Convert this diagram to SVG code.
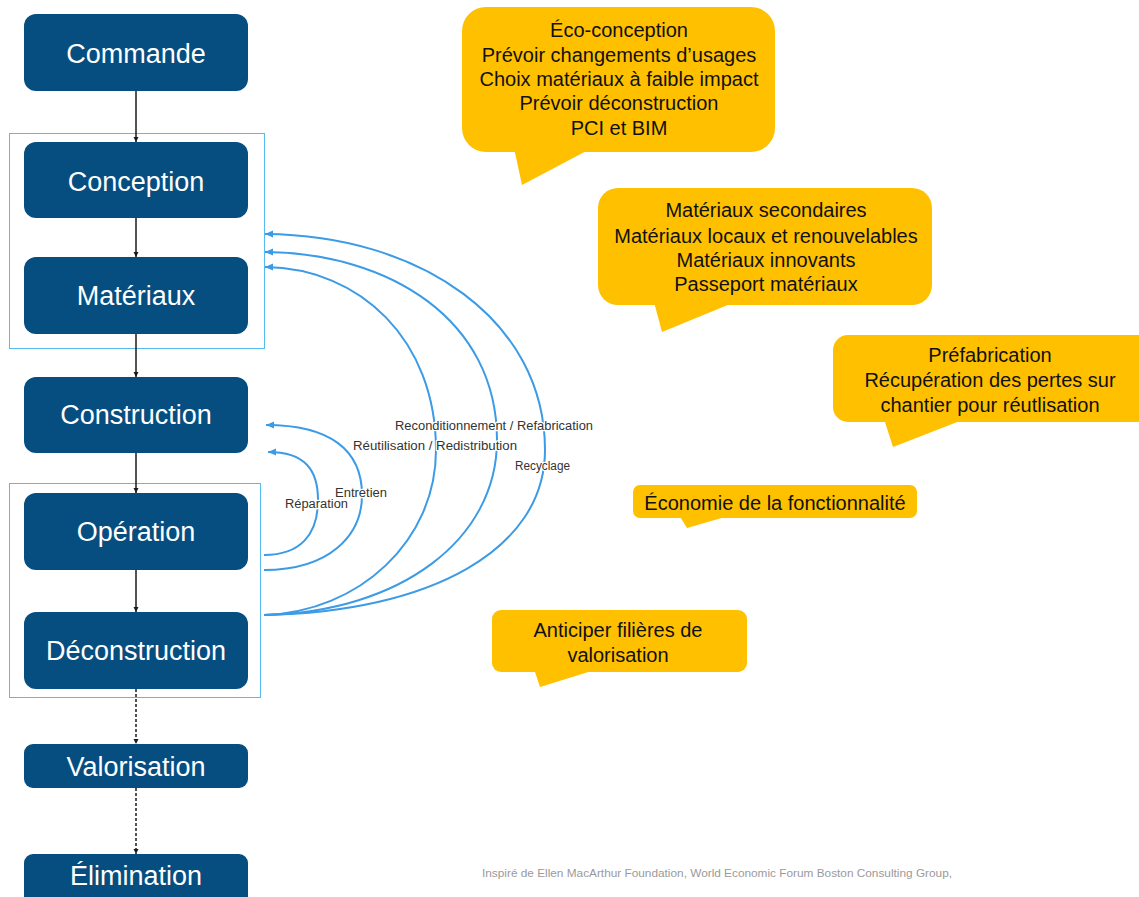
<svg xmlns="http://www.w3.org/2000/svg" width="1139" height="897" viewBox="0 0 1139 897">
<style>
.node rect{fill:#064e80}
.node text{fill:#ffffff;font-family:"Liberation Sans",Arial,sans-serif;font-size:27px;text-anchor:middle}
.frame{fill:none;stroke:#55bdee;stroke-width:1}
.flow{stroke:#1a1a1a;stroke-width:1.5;fill:none;marker-end:url(#ah)}
.dash{stroke-dasharray:3 2}
.loop{stroke:#3b9be6;stroke-width:2;fill:none;marker-end:url(#bh)}
.lbl{font-family:"Liberation Sans",Arial,sans-serif;font-size:12px;fill:#333333;stroke:#ffffff;stroke-width:2.5;paint-order:stroke;stroke-linejoin:round}
.call path,.call polygon{fill:#ffc000}
.call text{font-family:"Liberation Sans",Arial,sans-serif;font-size:20px;fill:#111111;text-anchor:middle}
.foot{font-family:"Liberation Sans",Arial,sans-serif;font-size:11px;fill:#9a9a9a}
</style>
<defs>
<marker id="ah" markerUnits="userSpaceOnUse" markerWidth="6" markerHeight="6" refX="5" refY="2.5" orient="auto"><path d="M0,0 L5,2.5 L0,5 z" fill="#1a1a1a"/></marker>
<marker id="bh" markerUnits="userSpaceOnUse" markerWidth="10" markerHeight="8" refX="8" refY="3.5" orient="auto"><path d="M0,0 L8,3.5 L0,7 z" fill="#3b9be6"/></marker>
</defs>
<rect width="1139" height="897" fill="#ffffff"/>
<rect class="frame" x="9.5" y="133.5" width="255" height="215"/>
<rect class="frame" x="9.5" y="483.5" width="251" height="214"/>
<g id="connectors">
<line class="flow" x1="136" y1="91" x2="136" y2="142"/>
<line class="flow" x1="136" y1="218" x2="136" y2="257"/>
<line class="flow" x1="136" y1="334" x2="136" y2="377"/>
<line class="flow" x1="136" y1="453" x2="136" y2="493"/>
<line class="flow" x1="136" y1="570" x2="136" y2="612"/>
<line class="flow dash" x1="136" y1="689" x2="136" y2="744"/>
<line class="flow dash" x1="136" y1="788" x2="136" y2="854"/>
<path class="loop" d="M264,555 C300,555 318,535 318,500 C318,470 305,452 268,452"/>
<path class="loop" d="M264,570 C330,570 362,535 362,495 C362,450 330,425 266,425"/>
<path class="loop" d="M264,615 C360,612 436,540 436,450 C436,340 360,268 265,267"/>
<path class="loop" d="M264,615 C400,612 497,540 497,440 C497,320 390,253 265,252"/>
<path class="loop" d="M264,615 C430,612 545,550 545,450 C545,320 420,235 265,234"/>
<text class="lbl" x="395" y="430" textLength="198" lengthAdjust="spacingAndGlyphs">Reconditionnement / Refabrication</text>
<text class="lbl" x="353" y="450" textLength="164" lengthAdjust="spacingAndGlyphs">Réutilisation / Redistribution</text>
<text class="lbl" x="515" y="470" textLength="55" lengthAdjust="spacingAndGlyphs">Recyclage</text>
<text class="lbl" x="335" y="497" textLength="52" lengthAdjust="spacingAndGlyphs">Entretien</text>
<text class="lbl" x="285" y="508" textLength="63" lengthAdjust="spacingAndGlyphs">Réparation</text>
</g>
<g id="n-commande" class="node"><rect x="24" y="14" width="224" height="77" rx="12"/><text x="136" y="63">Commande</text></g>
<g id="n-conception" class="node"><rect x="24" y="142" width="224" height="76" rx="12"/><text x="136" y="191">Conception</text></g>
<g id="n-materiaux" class="node"><rect x="24" y="257" width="224" height="77" rx="12"/><text x="136" y="305">Matériaux</text></g>
<g id="n-construction" class="node"><rect x="24" y="377" width="224" height="76" rx="12"/><text x="136" y="424">Construction</text></g>
<g id="n-operation" class="node"><rect x="24" y="493" width="224" height="77" rx="12"/><text x="136" y="541">Opération</text></g>
<g id="n-deconstruction" class="node"><rect x="24" y="612" width="224" height="77" rx="12"/><text x="136" y="660">Déconstruction</text></g>
<g id="n-valorisation" class="node"><rect x="24" y="744" width="224" height="44" rx="9"/><text x="136" y="776">Valorisation</text></g>
<g id="n-elimination" class="node"><rect x="24" y="854" width="224" height="60" rx="9"/><text x="136" y="885">Élimination</text></g>
<g id="c-eco" class="call">
<path d="M486,7 H751 A24,24 0 0 1 775,31 V128 A24,24 0 0 1 751,152 H486 A24,24 0 0 1 462,128 V31 A24,24 0 0 1 486,7 Z"/>
<polygon points="514,148 522,185 592,148"/>
<text x="619" y="37">Éco-conception</text>
<text x="619" y="62">Prévoir changements d’usages</text>
<text x="619" y="86">Choix matériaux à faible impact</text>
<text x="619" y="110">Prévoir déconstruction</text>
<text x="619" y="135">PCI et BIM</text>
</g>
<g id="c-mat" class="call">
<path d="M618,188 H912 A20,20 0 0 1 932,208 V285 A20,20 0 0 1 912,305 H618 A20,20 0 0 1 598,285 V208 A20,20 0 0 1 618,188 Z"/>
<polygon points="654,302 662,332 735,302"/>
<text x="766" y="217">Matériaux secondaires</text>
<text x="766" y="243">Matériaux locaux et renouvelables</text>
<text x="766" y="267">Matériaux innovants</text>
<text x="766" y="291">Passeport matériaux</text>
</g>
<g id="c-pref" class="call">
<path d="M848,335 H1139 V422 H848 A15,15 0 0 1 833,407 V350 A15,15 0 0 1 848,335 Z"/>
<polygon points="884,419 893,447 965,419"/>
<text x="990" y="362">Préfabrication</text>
<text x="990" y="387">Récupération des pertes sur</text>
<text x="990" y="412">chantier pour réutlisation</text>
</g>
<g id="c-eco-fonc" class="call">
<path d="M640,485 H910 A7,7 0 0 1 917,492 V511 A7,7 0 0 1 910,518 H640 A7,7 0 0 1 633,511 V492 A7,7 0 0 1 640,485 Z"/>
<polygon points="679,515 687,528 732,515"/>
<text x="775" y="510">Économie de la fonctionnalité</text>
</g>
<g id="c-filieres" class="call">
<path d="M501,610 H738 A9,9 0 0 1 747,619 V663 A9,9 0 0 1 738,672 H501 A9,9 0 0 1 492,663 V619 A9,9 0 0 1 501,610 Z"/>
<polygon points="534,669 540,687 598,669"/>
<text x="618" y="637">Anticiper filières de</text>
<text x="618" y="662">valorisation</text>
</g>
<text class="foot" x="482" y="877" textLength="470" lengthAdjust="spacingAndGlyphs">Inspiré de Ellen MacArthur Foundation, World Economic Forum Boston Consulting Group,</text>
</svg>
